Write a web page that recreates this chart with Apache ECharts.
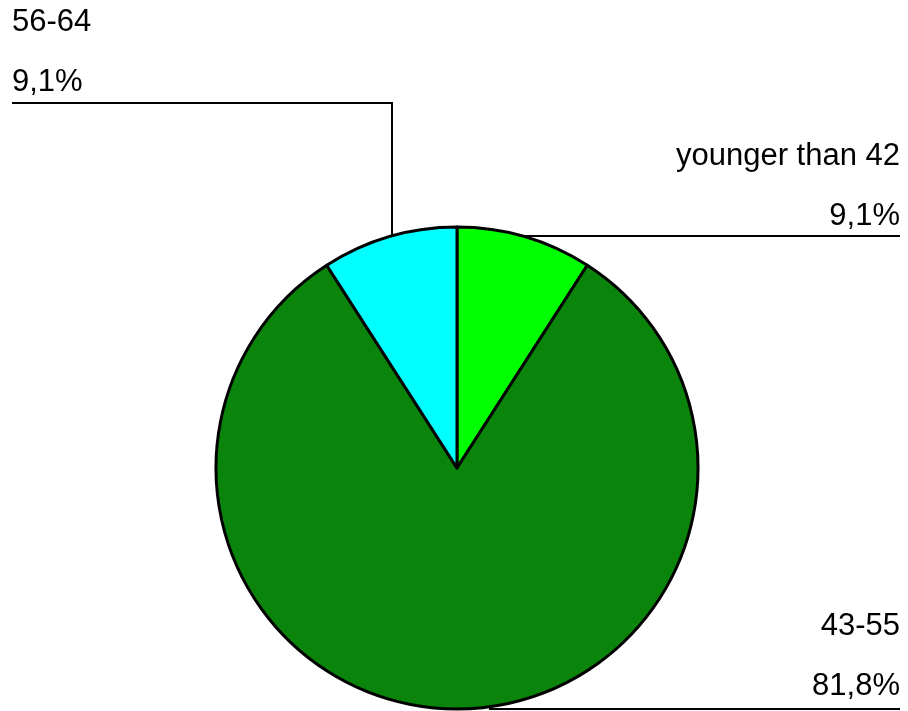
<!DOCTYPE html>
<html>
<head>
<meta charset="utf-8">
<script src="https://cdn.jsdelivr.net/npm/echarts@6/dist/echarts.min.js"></script>
<style>
html,body{margin:0;padding:0;background:#fff;}
#chart{width:908px;height:711px;}
</style>
</head>
<body>
<div id="chart"></div>
<script>
// Data
const categories = ['younger than 42', '43-55', '56-64'];
const counts = [1, 9, 1];
const colors = ['#00FF00', '#0A840A', '#00FFFF'];

// Layout constants
const CX = 457, CY = 468, R = 241;
const labelPos = [
  { x: 900, top: 141, align: 'right', lineY: 236, endX: 900, side: 1 },
  { x: 900, top: 611, align: 'right', lineY: 709, endX: 900, side: 1, edgeX: 490 },
  { x: 12,  top: 7,   align: 'left',  lineY: 103, endX: 12,  side: -1, edgeX: 392 }
];

const total = counts.reduce((a, b) => a + b, 0);
const data = categories.map((c, i) => ({
  name: c, value: counts[i], itemStyle: { color: colors[i] }
}));

const chart = echarts.init(document.getElementById('chart'), null, { renderer: 'canvas' });
chart.setOption({
  backgroundColor: '#ffffff',
  animation: false,
  series: [{
    type: 'pie',
    center: [CX, CY],
    radius: R,
    startAngle: 90,
    clockwise: true,
    data: data,
    itemStyle: { borderColor: '#000', borderWidth: 3 },
    emphasis: { disabled: true },
    label: {
      show: true,
      position: 'outside',
      color: '#000',
      fontFamily: '"Liberation Sans", Arial, sans-serif',
      fontSize: 31,
      lineHeight: 30,
      formatter: function (p) {
        const pct = (p.value / total * 100).toFixed(1).replace('.', ',');
        return p.name + '\n\n' + pct + '%';
      }
    },
    labelLine: {
      show: true,
      lineStyle: { color: '#000', width: 2 }
    },
    labelLayout: function (params) {
      const L = labelPos[params.dataIndex];
      let pts;
      if (params.dataIndex === 2) {
        const dy = Math.sqrt(R * R - (L.edgeX - CX) * (L.edgeX - CX));
        pts = [[L.edgeX, CY - dy], [L.edgeX, L.lineY], [L.endX, L.lineY]];
      } else if (params.dataIndex === 1) {
        const dy = Math.sqrt(R * R - (L.edgeX - CX) * (L.edgeX - CX));
        pts = [[L.edgeX, CY + dy], [L.edgeX, L.lineY], [L.endX, L.lineY]];
      } else {
        const dx = Math.sqrt(R * R - (L.lineY - CY) * (L.lineY - CY));
        const ex = CX + L.side * dx;
        pts = [[ex, L.lineY], [ex, L.lineY], [L.endX, L.lineY]];
      }
      return {
        x: L.x,
        y: L.top,
        align: L.align,
        verticalAlign: 'top',
        labelLinePoints: pts
      };
    }
  }]
});
</script>
</body>
</html>
